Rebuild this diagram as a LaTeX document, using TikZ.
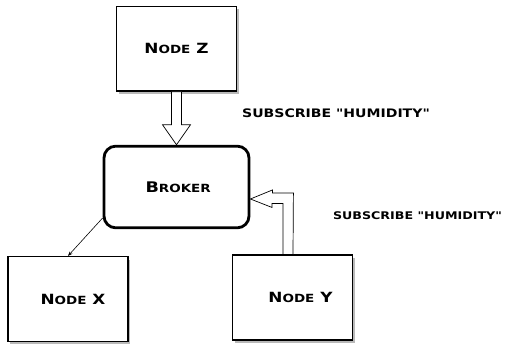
\documentclass[tikz,border=0pt]{standalone}
\usepackage{fontspec}
\setmainfont{DejaVu Sans}
\newfontfamily\widefont{DejaVu Sans}[FakeStretch=1.2]
\usetikzlibrary{positioning,shadows,calc,arrows.meta}
\newcommand{\lowcaps}[1]{{\fontsize{9.6}{11}\selectfont #1}}
\newcommand{\qmark}{\char34}
\tikzset{nodebox/.style={
  shape=rectangle,
  draw=black,
  fill=white,
  line width=1.2pt,
  minimum width=3.6cm,
  minimum height=2.54cm,
  font=\widefont\bfseries\fontsize{12}{14}\selectfont,
  drop shadow={shadow xshift=2pt,shadow yshift=-2.5pt,opacity=0.55},
  },
  brokerbox/.style={
  shape=rectangle,
  draw=black,
  fill=white,
  rounded corners=10pt,
  line width=2.4pt,
  minimum width=4.35cm,
  minimum height=2.45cm,
  font=\widefont\bfseries\fontsize{12.5}{14}\selectfont,
  },
  hollow/.style={draw=black, fill=white, line width=0.6pt},
  subtext/.style={font=\widefont\bfseries\fontsize{10}{12}\selectfont},
}

\begin{document}
\begin{tikzpicture}[x=0.03cm,y=0.03cm]
  \useasboundingbox (0,0) rectangle (508,347);
  \node[brokerbox] (broker) at (176.5,160) {\hspace*{0.1cm}B\lowcaps{ROKER}};
  \node[nodebox] (nodez) [above=1.59cm of broker] {N\lowcaps{ODE} Z};
  \node[nodebox] (nodex) at (68,48) {\hspace*{0.3cm}N\lowcaps{ODE} X};
  \node[nodebox] (nodey) at (292.5,49.5) {\hspace*{0.48cm}N\lowcaps{ODE} Y};

  \node[subtext] (subz) at (336,234) {SUBSCRIBE \qmark HUMIDITY\qmark};
  \node[subtext, font=\widefont\bfseries\fontsize{9}{11}\selectfont] (suby) at (417.5,131) {SUBSCRIBE \qmark HUMIDITY\qmark};

  % node z subscribes
  \draw[hollow] ($(nodez.south)+(-5,0)$) -- ++(0,-33) -- ++(-9,0)
    -- (broker.north) -- ($(nodez.south)+(14,-33)$) -- ++(-9,0) -- ++(0,33) -- cycle;

  % node y subscribes
  \coordinate (ytip) at ($(broker.east)+(0,-12)$);
  \draw[hollow] (ytip) -- ++(22,9) -- ++(0,-3) -- ++(21,0)
    -- ($(nodey.north)+(0.5,0)$) -- ++(-10,0) -- ++(0,51) -- ++(-11,0) -- ++(0,-4) -- cycle;

  % broker forwards to node x
  \draw[-{Stealth[length=4pt,width=3pt]}, line width=0.5pt] ($(broker.west)+(0,-31)$) -- (nodex.north);
\end{tikzpicture}
\end{document}
